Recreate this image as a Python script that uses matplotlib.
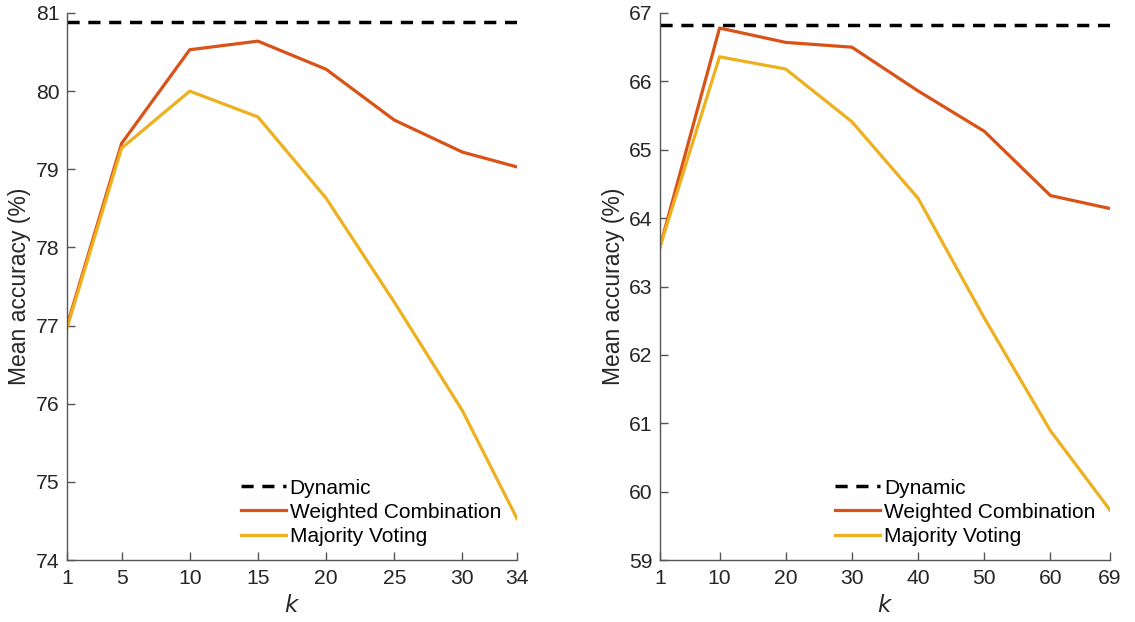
import matplotlib
matplotlib.use("Agg")
import matplotlib.pyplot as plt

plt.rcParams['font.family'] = ['Liberation Sans', 'DejaVu Sans']

# ---- data ----
k_left = [1, 5, 10, 15, 20, 25, 30, 34]
weighted_left = [77.0, 79.33, 80.53, 80.64, 80.28, 79.63, 79.22, 79.03]
majority_left = [76.97, 79.27, 80.0, 79.67, 78.63, 77.3, 75.91, 74.53]
dynamic_left = 80.88

k_right = [1, 10, 20, 30, 40, 50, 60, 69]
weighted_right = [63.58, 66.78, 66.57, 66.50, 65.86, 65.27, 64.33, 64.14]
majority_right = [63.58, 66.36, 66.18, 65.41, 64.29, 62.54, 60.89, 59.73]
dynamic_right = 66.83

xticks_left = [1, 5, 10, 15, 20, 25, 30, 34]
yticks_left = [74, 75, 76, 77, 78, 79, 80, 81]
xticks_right = [1, 10, 20, 30, 40, 50, 60, 69]
yticks_right = [59, 60, 61, 62, 63, 64, 65, 66, 67]

labels = ['Dynamic', 'Weighted Combination', 'Majority Voting']
c_weighted = '#D95319'
c_majority = '#EDB120'
axis_col = '#262626'

fig = plt.figure(figsize=(11.35, 6.22), dpi=100)
ax1 = fig.add_axes([67/1135, 62/622, 450/1135, 547/622])
ax2 = fig.add_axes([660/1135, 62/622, 450/1135, 547/622])

def draw(ax, k, w, m, d, xt, yt, legx):
    ax.plot([k[0], k[-1]], [d, d], color='black', lw=2.5, ls=(0, (3.5, 2.5)), label=labels[0])
    ax.plot(k, w, color=c_weighted, lw=2.3, label=labels[1])
    ax.plot(k, m, color=c_majority, lw=2.3, label=labels[2])
    ax.set_xlim(xt[0], xt[-1])
    ax.set_ylim(yt[0], yt[-1])
    ax.set_xticks(xt)
    ax.set_yticks(yt)
    for s in ['top', 'right']:
        ax.spines[s].set_visible(False)
    for s in ['left', 'bottom']:
        ax.spines[s].set_color('#555555')
        ax.spines[s].set_linewidth(1.0)
    ax.tick_params(direction='in', length=6, width=1.0, color='#555555',
                   labelsize=15.2, labelcolor=axis_col)
    ax.tick_params(axis='x', pad=6.5)
    ax.tick_params(axis='y', pad=5.5)
    ax.set_xlabel('$k$', fontsize=16.5, color=axis_col, labelpad=4)
    ax.set_ylabel('Mean accuracy (%)', fontsize=16.5, color=axis_col, labelpad=3)
    ax.legend(loc='lower left', bbox_to_anchor=(legx, 0.0256), frameon=False,
              fontsize=15, handlelength=2.16, handletextpad=0.19,
              labelspacing=0.25, borderpad=0, borderaxespad=0)

draw(ax1, k_left, weighted_left, majority_left, dynamic_left, xticks_left, yticks_left, 0.386)
draw(ax2, k_right, weighted_right, majority_right, dynamic_right, xticks_right, yticks_right, 0.389)

fig.savefig('out.png', dpi=100)
